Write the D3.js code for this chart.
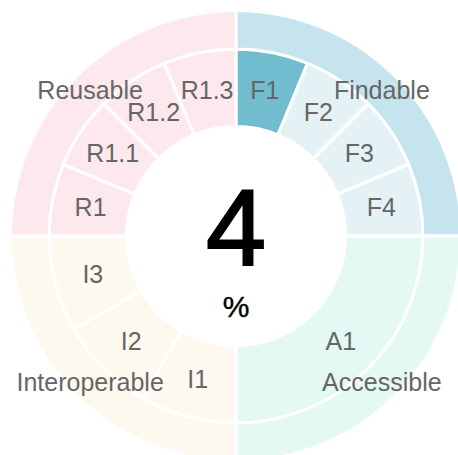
<!DOCTYPE html>
<html>
<head>
<meta charset="utf-8">
<script src="https://cdn.jsdelivr.net/npm/d3@7"></script>
<style>
  html, body { margin: 0; padding: 0; background: #ffffff; }
  svg { display: block; }
</style>
</head>
<body>
<svg id="chart" width="458" height="455"></svg>
<script>
// ---- data ----
const principles = ["Findable", "Accessible", "Interoperable", "Reusable"];
const subPrinciples = ["F1", "F2", "F3", "F4", "A1", "I1", "I2", "I3", "R1", "R1.1", "R1.2", "R1.3"];
const subParent = ["Findable", "Findable", "Findable", "Findable", "Accessible",
  "Interoperable", "Interoperable", "Interoperable",
  "Reusable", "Reusable", "Reusable", "Reusable"];
const earned = ["F1"];           // sub-principles that scored
const totalScore = 4;             // percent
const unitLabel = "%";

// ---- styles ----
const palette = {
  Findable:      { outer: "#c5e4ed", inner: "#e4f2f6", earned: "#72bccf" },
  Accessible:    { outer: "#e4f9f3", inner: "#e4f9f3" },
  Interoperable: { outer: "#fef9ee", inner: "#fef9ee" },
  Reusable:      { outer: "#fde9ed", inner: "#fde9ed" }
};

const svg = d3.select("#chart");
const cx = 236, cy = 236;
const g = svg.append("g").attr("transform", `translate(${cx},${cy})`);

// angles: each principle gets an equal share, sub-principles split their parent equally
const pie = d3.pie().value(() => 1).sort(null);
const outerArcs = pie(principles);

const innerArcs = [];
outerArcs.forEach(pa => {
  const kids = subPrinciples.filter((s, i) => subParent[i] === pa.data);
  const sc = d3.scaleLinear().domain([0, kids.length]).range([pa.startAngle, pa.endAngle]);
  kids.forEach((k, j) => innerArcs.push({ data: k, parent: pa.data, startAngle: sc(j), endAngle: sc(j + 1) }));
});

const innerArc = d3.arc().innerRadius(109.5).outerRadius(187);
const outerArc = d3.arc().innerRadius(187).outerRadius(225.5);

// inner ring
g.selectAll("path.inner").data(innerArcs).join("path")
  .attr("class", "inner")
  .attr("d", innerArc)
  .attr("fill", d => earned.includes(d.data) ? palette[d.parent].earned : palette[d.parent].inner)
  .attr("stroke", "#ffffff").attr("stroke-width", 3);

// outer ring
g.selectAll("path.outer").data(outerArcs).join("path")
  .attr("class", "outer")
  .attr("d", outerArc)
  .attr("fill", d => palette[d.data].outer)
  .attr("stroke", "#ffffff").attr("stroke-width", 3);

const labelFont = "'Liberation Sans', Arial, Helvetica, sans-serif";

// inner labels
g.selectAll("text.inner").data(innerArcs).join("text")
  .attr("class", "inner")
  .attr("transform", d => `translate(${innerArc.centroid(d)})`)
  .attr("text-anchor", "middle").attr("dy", "0.35em")
  .attr("font-family", labelFont).attr("font-size", 25)
  .attr("fill", "#666666")
  .text(d => d.data);

// outer labels
g.selectAll("text.outer").data(outerArcs).join("text")
  .attr("class", "outer")
  .attr("transform", d => `translate(${outerArc.centroid(d)})`)
  .attr("text-anchor", "middle").attr("dy", "0.35em")
  .attr("font-family", labelFont).attr("font-size", 25)
  .attr("fill", "#666666")
  .text(d => d.data);

// center score
g.append("text")
  .attr("x", 0).attr("y", 29)
  .attr("text-anchor", "middle")
  .attr("font-family", labelFont).attr("font-size", 108)
  .attr("fill", "#000000")
  .attr("stroke", "#000000").attr("stroke-width", 2)
  .text(totalScore);

g.append("text")
  .attr("x", 0).attr("y", 81)
  .attr("text-anchor", "middle")
  .attr("font-family", labelFont).attr("font-size", 30)
  .attr("fill", "#000000")
  .attr("stroke", "#000000").attr("stroke-width", 0.4)
  .text(unitLabel);
</script>
</body>
</html>
